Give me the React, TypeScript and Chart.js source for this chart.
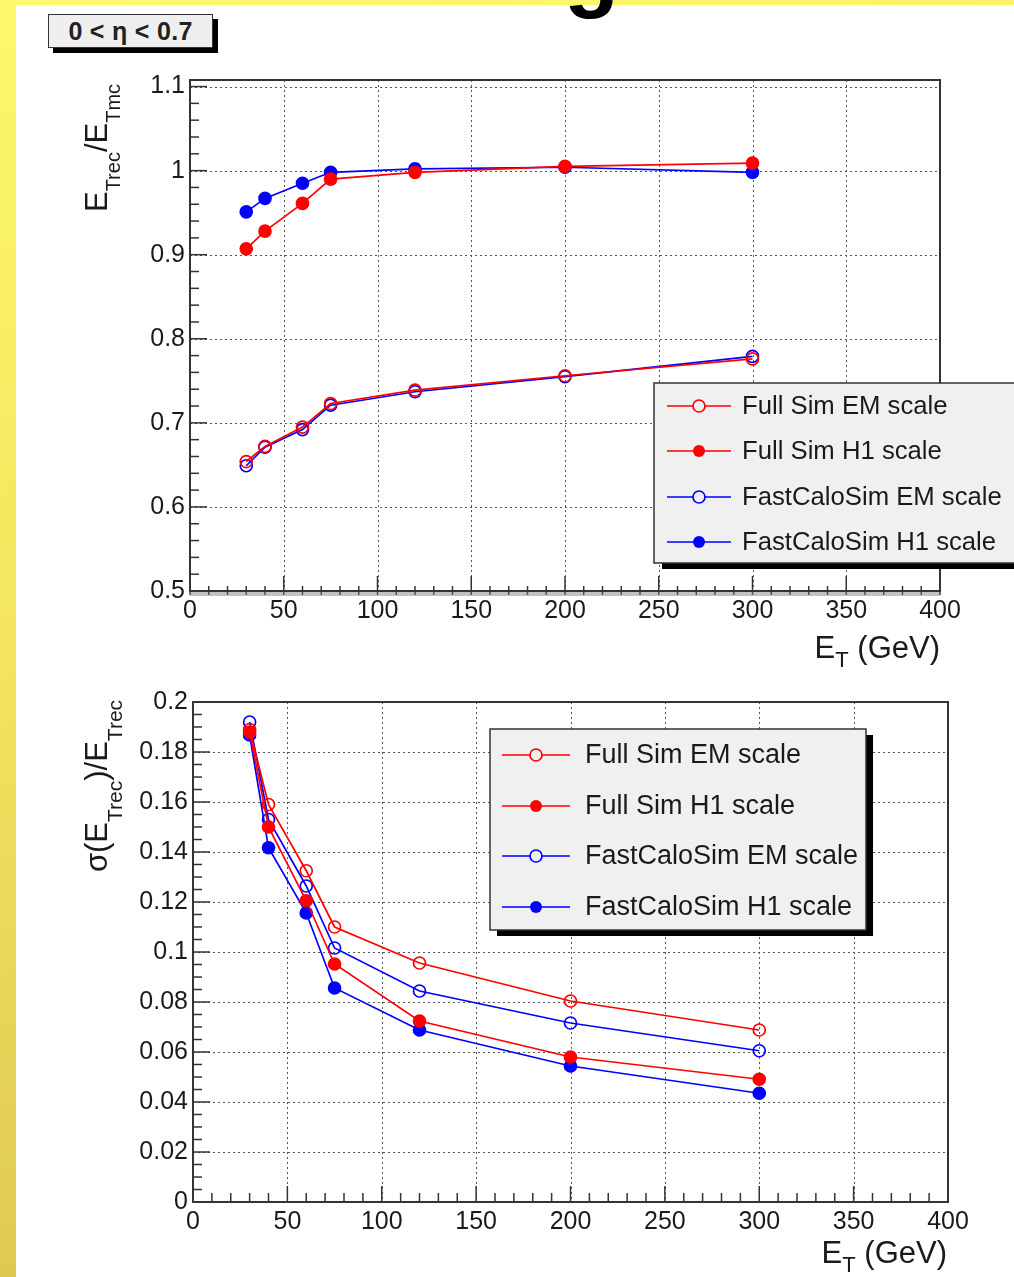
import React, { useEffect, useRef } from "react";
import { Chart, registerables } from "chart.js";

Chart.register(...registerables);

// ---------------- data ----------------
const energies = [30, 40, 60, 75, 120, 200, 300];

// response E_Trec / E_Tmc
const fullSimEmScale = [0.654, 0.672, 0.695, 0.723, 0.739, 0.756, 0.776];
const fullSimH1Scale = [0.907, 0.928, 0.961, 0.99, 0.998, 1.005, 1.009];
const fastEmScale = [0.649, 0.671, 0.692, 0.721, 0.737, 0.755, 0.779];
const fastH1Scale = [0.951, 0.967, 0.985, 0.998, 1.002, 1.004, 0.998];

// resolution sigma(E_Trec)/E_Trec
const fullSimEmRes = [0.189, 0.159, 0.1325, 0.11, 0.0956, 0.0804, 0.0688];
const fullSimH1Res = [0.188, 0.15, 0.1205, 0.0952, 0.0724, 0.058, 0.0491];
const fastEmRes = [0.192, 0.153, 0.1264, 0.1016, 0.0844, 0.0716, 0.0605];
const fastH1Res = [0.1868, 0.1417, 0.1156, 0.0856, 0.0688, 0.0544, 0.0435];

const seriesLabels = [
  "Full Sim EM scale",
  "Full Sim H1 scale",
  "FastCaloSim EM scale",
  "FastCaloSim H1 scale",
];

const xTickValues = [0, 50, 100, 150, 200, 250, 300, 350, 400];
const responseTickValues = [0.5, 0.6, 0.7, 0.8, 0.9, 1, 1.1];
const resolutionTickValues = [0, 0.02, 0.04, 0.06, 0.08, 0.1, 0.12, 0.14, 0.16, 0.18, 0.2];

const etaLabel = "0 < \u03b7 < 0.7";
const xTitleParts = [{ t: "E" }, { t: "T", sub: true }, { t: " (GeV)" }];
const responseTitleParts = [{ t: "E" }, { t: "Trec", sub: true }, { t: "/E" }, { t: "Tmc", sub: true }];
const resolutionTitleParts = [
  { t: "\u03c3(E" },
  { t: "Trec", sub: true },
  { t: ")/E" },
  { t: "Trec", sub: true },
];

// ---------------- style ----------------
const RED = "#ff0000";
const BLUE = "#0000ff";
const seriesStyle = [
  { color: RED, filled: false },
  { color: RED, filled: true },
  { color: BLUE, filled: false },
  { color: BLUE, filled: true },
];
const FONT = '"Liberation Sans", Arial, Helvetica, sans-serif';
const TEXT = "#1a1a1a";

type Part = { t: string; sub?: boolean };

function drawRich(
  ctx: CanvasRenderingContext2D,
  parts: Part[],
  x: number,
  y: number,
  big: number,
  small: number,
  shift: number,
  align: "center" | "right"
) {
  const fontFor = (p: Part) => `${p.sub ? small : big}px ${FONT}`;
  let w = 0;
  parts.forEach((p) => {
    ctx.font = fontFor(p);
    w += ctx.measureText(p.t).width;
  });
  let cx = align === "center" ? x - w / 2 : x - w;
  ctx.textAlign = "left";
  ctx.textBaseline = "alphabetic";
  ctx.fillStyle = TEXT;
  parts.forEach((p) => {
    ctx.font = fontFor(p);
    ctx.fillText(p.t, cx, y + (p.sub ? shift : 0));
    cx += ctx.measureText(p.t).width;
  });
}

const fmt = (v: any) => String(parseFloat(Number(v).toFixed(4)));

type PanelCfg = {
  padding: { left: number; right: number; top: number; bottom: number };
  yMin: number;
  yMax: number;
  yTicks: number[];
  yMinor: number;
  xMinor: number;
  series: number[][];
  xTickBoth: boolean;
  legend: { x: number; y: number; w: number; h: number; sx: number; sy: number; rows: number[]; l0: number; l1: number; tx: number; font: number };
  yTitle: { parts: Part[]; bx: number; cy: number; big: number; small: number; shift: number };
  xTitle: { rx: number; by: number; big: number; small: number; shift: number };
};

function makeChart(canvas: HTMLCanvasElement, cfg: PanelCfg) {
  const datasets = cfg.series.map((vals, i) => ({
    label: seriesLabels[i],
    data: energies.map((e, k) => ({ x: e, y: vals[k] })),
    borderColor: seriesStyle[i].color,
    backgroundColor: seriesStyle[i].color,
    borderWidth: 1.7,
    pointRadius: 6,
    pointBorderWidth: 1.7,
    pointBorderColor: seriesStyle[i].color,
    pointBackgroundColor: seriesStyle[i].filled ? seriesStyle[i].color : "rgba(0,0,0,0)",
    tension: 0,
    showLine: true,
    fill: false,
  }));

  const rootPlugin = {
    id: "rootStyle",
    beforeDatasetsDraw(chart: any) {
      const { ctx, chartArea: a, scales } = chart;
      const xs = scales.x;
      const ys = scales.y;
      ctx.save();
      // dotted grid
      ctx.strokeStyle = "#555";
      ctx.lineWidth = 1;
      ctx.setLineDash([2, 3]);
      xs.ticks.forEach((t: any) => {
        const px = Math.round(xs.getPixelForValue(t.value)) + 0.5;
        if (px > a.left + 2 && px < a.right - 2) {
          ctx.beginPath();
          ctx.moveTo(px, a.top);
          ctx.lineTo(px, a.bottom);
          ctx.stroke();
        }
      });
      ys.ticks.forEach((t: any) => {
        const py = Math.round(ys.getPixelForValue(t.value)) + 0.5;
        if (py > a.top + 2 && py < a.bottom - 2) {
          ctx.beginPath();
          ctx.moveTo(a.left, py);
          ctx.lineTo(a.right, py);
          ctx.stroke();
        }
      });
      ctx.setLineDash([]);
      // ticks
      ctx.strokeStyle = "#333";
      ctx.lineWidth = 1.5;
      const nY = Math.round((cfg.yMax - cfg.yMin) / cfg.yMinor + 1e-6);
      for (let k = 0; k <= nY; k++) {
        const v = cfg.yMin + k * cfg.yMinor;
        const major = cfg.yTicks.some((t) => Math.abs(t - v) < 1e-6);
        const py = ys.getPixelForValue(v);
        ctx.beginPath();
        ctx.moveTo(a.left, py);
        ctx.lineTo(a.left + (major ? 17 : 9), py);
        ctx.stroke();
      }
      const nX = Math.round(400 / cfg.xMinor);
      for (let k = 0; k <= nX; k++) {
        const v = k * cfg.xMinor;
        const major = xTickValues.some((t) => Math.abs(t - v) < 1e-6);
        const px = xs.getPixelForValue(v);
        ctx.beginPath();
        if (cfg.xTickBoth) {
          ctx.moveTo(px, a.bottom + 4);
          ctx.lineTo(px, a.bottom - (major ? 15 : 5));
        } else {
          ctx.moveTo(px, a.bottom);
          ctx.lineTo(px, a.bottom - (major ? 16 : 9));
        }
        ctx.stroke();
      }
      if (cfg.xTickBoth) {
        ctx.fillStyle = "rgba(120,120,120,0.45)";
        ctx.fillRect(a.left, a.bottom + 1, a.right - a.left, 4);
      }
      // frame
      ctx.strokeStyle = "#333";
      ctx.lineWidth = 2;
      ctx.strokeRect(a.left, a.top, a.right - a.left, a.bottom - a.top);
      ctx.restore();
    },
    afterDraw(chart: any) {
      const { ctx } = chart;
      const L = cfg.legend;
      ctx.save();
      // legend box
      ctx.fillStyle = "#000";
      ctx.fillRect(L.x + L.sx, L.y + L.sy, L.w, L.h);
      ctx.fillStyle = "#f0f0f0";
      ctx.fillRect(L.x, L.y, L.w, L.h);
      ctx.strokeStyle = "#333";
      ctx.lineWidth = 1.5;
      ctx.strokeRect(L.x, L.y, L.w, L.h);
      chart.data.datasets.forEach((ds: any, i: number) => {
        const y = L.rows[i];
        ctx.strokeStyle = ds.borderColor;
        ctx.lineWidth = 1.7;
        ctx.beginPath();
        ctx.moveTo(L.l0, y);
        ctx.lineTo(L.l1, y);
        ctx.stroke();
        const mx = (L.l0 + L.l1) / 2;
        ctx.beginPath();
        ctx.arc(mx, y, 6, 0, Math.PI * 2);
        if (seriesStyle[i].filled) {
          ctx.fillStyle = ds.borderColor;
          ctx.fill();
        } else {
          ctx.fillStyle = "#f0f0f0";
          ctx.fill();
          ctx.stroke();
        }
        ctx.fillStyle = TEXT;
        ctx.font = `${L.font}px ${FONT}`;
        ctx.textAlign = "left";
        ctx.textBaseline = "middle";
        ctx.fillText(ds.label, L.tx, y + 1);
      });
      // axis titles
      const T = cfg.yTitle;
      ctx.save();
      ctx.translate(T.bx, T.cy);
      ctx.rotate(-Math.PI / 2);
      drawRich(ctx, T.parts, 0, 0, T.big, T.small, T.shift, "center");
      ctx.restore();
      const X = cfg.xTitle;
      drawRich(ctx, xTitleParts, X.rx, X.by, X.big, X.small, X.shift, "right");
      ctx.restore();
    },
  };

  return new Chart(canvas, {
    type: "line",
    data: { datasets },
    plugins: [rootPlugin],
    options: {
      responsive: false,
      animation: false,
      devicePixelRatio: 1,
      layout: { padding: cfg.padding },
      plugins: { legend: { display: false }, tooltip: { enabled: false } },
      scales: {
        x: {
          type: "linear",
          min: 0,
          max: 400,
          grid: { display: false, drawTicks: false },
          border: { display: false },
          afterBuildTicks: (s: any) => {
            s.ticks = xTickValues.map((v) => ({ value: v }));
          },
          afterFit: (s: any) => {
            s.height = 50;
          },
          ticks: {
            autoSkip: false,
            maxRotation: 0,
            minRotation: 0,
            padding: 5,
            color: TEXT,
            font: { family: FONT, size: 25 },
            callback: fmt,
          },
        },
        y: {
          type: "linear",
          min: cfg.yMin,
          max: cfg.yMax,
          grid: { display: false, drawTicks: false },
          border: { display: false },
          afterBuildTicks: (s: any) => {
            s.ticks = cfg.yTicks.map((v) => ({ value: v }));
          },
          afterFit: (s: any) => {
            s.width = 60;
          },
          ticks: {
            autoSkip: false,
            padding: 5,
            color: TEXT,
            font: { family: FONT, size: 25 },
            callback: fmt,
          },
        },
      },
    } as any,
  });
}

export default function App() {
  const topRef = useRef<HTMLCanvasElement>(null);
  const botRef = useRef<HTMLCanvasElement>(null);

  useEffect(() => {
    const top = makeChart(topRef.current!, {
      padding: { left: 130, right: 74, top: 18, bottom: 39 },
      yMin: 0.5,
      yMax: 1.1078,
      yTicks: responseTickValues,
      yMinor: 0.02,
      xMinor: 10,
      series: [fullSimEmScale, fullSimH1Scale, fastEmScale, fastH1Scale],
      xTickBoth: true,
      legend: { x: 654, y: 323, w: 420, h: 180, sx: 8, sy: 6, rows: [346, 391, 437, 482], l0: 667, l1: 731, tx: 742, font: 25.7 },
      yTitle: { parts: responseTitleParts, bx: 107, cy: 88, big: 31, small: 20, shift: 13 },
      xTitle: { rx: 940, by: 598, big: 31, small: 22, shift: 9 },
    });
    const bot = makeChart(botRef.current!, {
      padding: { left: 133, right: 66, top: 22, bottom: 25 },
      yMin: 0,
      yMax: 0.2,
      yTicks: resolutionTickValues,
      yMinor: 0.005,
      xMinor: 10,
      series: [fullSimEmRes, fullSimH1Res, fastEmRes, fastH1Res],
      xTickBoth: false,
      legend: { x: 490, y: 49, w: 376, h: 201, sx: 7, sy: 6, rows: [75, 126, 176, 227], l0: 502, l1: 570, tx: 585, font: 27 },
      yTitle: { parts: resolutionTitleParts, bx: 107, cy: 106, big: 31, small: 21, shift: 15 },
      xTitle: { rx: 947, by: 583, big: 31, small: 22, shift: 9 },
    });
    return () => {
      top.destroy();
      bot.destroy();
    };
  }, []);

  return (
    <div
      style={{
        position: "absolute",
        left: 0,
        top: 0,
        width: 1014,
        height: 1277,
        overflow: "hidden",
        background: "linear-gradient(172deg, #fdf86e 0%, #f3e55f 45%, #dcc34f 100%)",
        fontFamily: FONT,
      }}
    >
      <div style={{ position: "absolute", left: 16, top: 5, right: 0, bottom: 0, background: "#ffffff" }} />
      <div style={{ position: "absolute", left: 0, top: 0, width: 1014, height: 20, overflow: "hidden" }}>
        <span
          style={{
            position: "absolute",
            left: 564,
            top: -76,
            fontSize: 90,
            lineHeight: "90px",
            fontWeight: "bold",
            color: "#000",
            fontFamily: FONT,
          }}
        >
          g
        </span>
      </div>
      <div
        style={{
          position: "absolute",
          left: 48,
          top: 14,
          width: 165,
          height: 34,
          boxSizing: "border-box",
          background: "#efefef",
          border: "1.5px solid #333",
          boxShadow: "5px 5px 0 #000",
          display: "flex",
          alignItems: "center",
          justifyContent: "center",
          fontWeight: "bold",
          fontSize: 25,
          letterSpacing: "0.3px",
          color: "#222",
        }}
      >
        {etaLabel}
      </div>
      <canvas ref={topRef} width={1014} height={620} style={{ position: "absolute", left: 0, top: 60, width: 1014, height: 620 }} />
      <canvas ref={botRef} width={1014} height={597} style={{ position: "absolute", left: 0, top: 680, width: 1014, height: 597 }} />
    </div>
  );
}
